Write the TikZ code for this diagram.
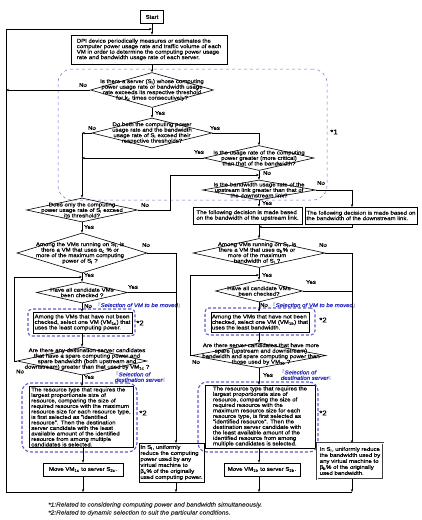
\documentclass[tikz,border=0pt]{standalone}
\usepackage{fontspec}
\setmainfont{Liberation Sans}[FakeStretch=1.12, FakeBold=0.4]
\newfontfamily\cjk{Noto Sans CJK JP}
\usetikzlibrary{arrows.meta,shapes.geometric}
\newcommand\fs{\fontsize{5.4}{5.5}\selectfont}
\newcommand\sub[1]{\textsubscript{#1}}
\definecolor{bluec}{RGB}{40,40,190}
\definecolor{regc}{RGB}{110,110,215}
\begin{document}
\begin{tikzpicture}[x=1pt,y=-1pt,
  every node/.style={font=\fs},
  box/.style={draw, line width=0.6pt, inner sep=1.2pt, align=left},
  dia/.style={draw, diamond, inner sep=0pt, line width=0.6pt},
  dtxt/.style={inner sep=0pt, align=center},
  lab/.style={inner sep=0pt},
  arr/.style={-{Stealth[length=3pt,width=2.4pt]}, line width=0.5pt},
  ln/.style={line width=0.5pt},
  blu/.style={inner sep=0pt, text=bluec, font=\fs\itshape, align=left, anchor=west},
  selframe/.style={draw=bluec!75, line width=1.1pt, dash pattern=on 3pt off 2pt, rounded corners=4pt, inner sep=0pt},
  resframe/.style={selframe, rounded corners=9pt},
  star/.style={inner sep=0pt, font=\fontsize{7}{7}\selectfont}]
\useasboundingbox (0,0) rectangle (421,520);

% dashed region *1
\node[draw=regc, dashed, line width=0.5pt, rounded corners=14pt, minimum width=269pt, minimum height=131pt, inner sep=0pt] (reg) at (192.5,134.5) {};
\node[star] (s1) at (334,132) {*1};

% main column
\node[box, minimum width=23pt, minimum height=13pt, align=center] (start) at (152,17) {Start};
\node[box, line width=0.8pt, minimum width=156pt, minimum height=29pt] (b1) at (149,49.5) {DPI device periodically measures or estimates the\\computer power usage rate and traffic volume of each\\VM in order to determine the computing power usage\\rate and bandwidth usage rate of each server.};

\node[dia, minimum width=123pt, minimum height=35pt] (d1) at (152,90) {};
\node[dtxt] (d1t) at (152,90) {Is there a server (S\sub{i}) whose computing\\power usage rate or bandwidth usage\\rate exceeds its respective threshold\\for k\sub{c} times consecutively?};

\node[dia, minimum width=120pt, minimum height=30pt] (d2) at (152,133) {};
\node[dtxt] (d2t) at (152,133) {Do both the computing power\\usage rate and the bandwidth\\usage rate of S\sub{i} exceed their\\respective thresholds?};

\node[dia, minimum width=110pt, minimum height=25pt] (d3) at (259,158) {};
\node[dtxt] (d3t) at (259,158) {Is the usage rate of the computing\\power greater (more critical)\\than that of the bandwidth?};

\node[dia, minimum width=113pt, minimum height=20pt] (d5) at (259,190) {};
\node[dtxt] (d5t) at (259,190) {Is the bandwidth usage rate of the\\upstream link greater than that of\\the downstream link?};

\node[dia, minimum width=111pt, minimum height=24pt] (d4) at (82,210) {};
\node[dtxt] (d4t) at (82,210) {Does only the computing\\power usage rate of S\sub{i} exceed\\its threshold?};

\node[box, minimum width=109pt, minimum height=17pt] (bup) at (247.5,215.5) {The following decision is made based\\on the bandwidth of the upstream link.};
\node[box, minimum width=112pt, minimum height=17pt] (bdn) at (361,215.5) {The following decision is made based on\\the bandwidth of the downstream link.};

% left column
\node[dia, minimum width=130pt, minimum height=40pt] (d6) at (82,253) {};
\node[dtxt] (d6t) at (80,253) {Among the VMs running on S\sub{i}, is\\there a VM that uses α\sub{c} \% or\\more of the maximum computing\\power of S\sub{i} ?};

\node[dia, minimum width=91pt, minimum height=21pt] (d7) at (82,292.5) {};
\node[dtxt] (d7t) at (82,292.5) {Have all candidate VMs\\been checked ?};

\node[box, minimum width=99pt, minimum height=21pt] (sel1) at (82.5,322.5) {Among the VMs that have not been\\checked, select one VM (VM\sub{1c}) that\\uses the least computing power.};
\node[selframe, minimum width=107pt, minimum height=27pt] (f1) at (81.5,322.5) {};

\node[dia, minimum width=130pt, minimum height=28pt] (d8) at (82,361) {};
\node[dtxt] (d8t) at (87,359) {Are there any destination server candidates\\that have a spare computing power and\\spare bandwidth (both upstream and\\downstream) greater than that used by VM\sub{1c} ?};

\node[box, minimum width=104pt, minimum height=60pt] (res1) at (81,417) {The resource type that requires the\\largest proportionate size of\\resource, comparing the size of\\required resource with the maximum\\resource size for each resource type,\\is first selected as "identified\\resource". Then the destination\\server candidate with the least\\available amount of the identified\\resource from among multiple\\candidates is selected.};
\node[resframe, minimum width=115pt, minimum height=69pt] (f3) at (79.5,417.5) {};

\node[box, minimum width=80pt, minimum height=13pt, align=center] (mv1) at (83,469.5) {Move VM\sub{1c} to server S\sub{2c}.};

\node[box, minimum width=65pt, minimum height=39pt, font=\fontsize{5.4}{6}\selectfont] (rcp) at (171.5,462.5) {In S\sub{i}, uniformly\\reduce the computing\\power used by any\\virtual machine to\\β\sub{c}\% of the originally\\used computing power.};

% right column
\node[dia, minimum width=132pt, minimum height=29pt] (d9) at (259,253) {};
\node[dtxt] (d9t) at (257,253) {Among VMs running on S\sub{i}, is\\there a VM that uses α\sub{b}\% or\\more of the maximum\\bandwidth of S\sub{i} ?};

\node[dia, minimum width=87pt, minimum height=22pt] (d10) at (259,291) {};
\node[dtxt] (d10t) at (259,291) {Have all candidate VMs\\been checked?};

\node[box, minimum width=98pt, minimum height=20pt] (sel2) at (260,322) {Among the VMs that have not been\\checked, select one VM (VM\sub{1b}) that\\uses the least bandwidth.};
\node[selframe, minimum width=110pt, minimum height=27pt] (f2) at (260,321.5) {};

\node[dia, minimum width=134pt, minimum height=25pt] (d11) at (259,355.5) {};
\node[dtxt] (d11t) at (261,354) {Are there server candidates that have more\\spare (upstream and downstream)\\bandwidth and spare computing power than\\those used by VM\sub{1b} ?};

\node[box, minimum width=110pt, minimum height=63pt] (res2) at (260,416.5) {The resource type that requires the\\largest proportionate size of\\resource, comparing the size of\\required resource with the\\maximum resource size for each\\resource type, is first selected as\\"identified resource". Then the\\destination server candidate with\\the least available amount of the\\identified resource from among\\multiple candidates is selected.};
\node[resframe, minimum width=120pt, minimum height=70pt] (f4) at (258,417) {};

\node[box, minimum width=76pt, minimum height=13pt, align=center] (mv2) at (262,469.5) {Move VM\sub{1b} to server S\sub{2b}.};

\node[box, draw=black!75, double, double distance=0.5pt, line width=0.5pt, minimum width=66pt, minimum height=36pt, font=\fontsize{5.4}{6}\selectfont] (rbw) at (350,461) {In S\sub{i}, uniformly reduce\\the bandwidth used by\\any virtual machine to\\β\sub{b}\% of the originally\\used bandwidth.};

% blue labels and *2 marks
\node[blu] (l1) at (95,305) {{\cjk 『}Selection of VM to be moved{\cjk 』}};
\node[blu] (l2) at (270,305) {{\cjk 『}Selection of VM to be moved{\cjk 』}};
\node[blu] (l3) at (113,377) {{\cjk 『}Selection of\\\ destination server{\cjk 』}};
\node[blu] (l4) at (279,375) {{\cjk 『}Selection of\\\ destination server{\cjk 』}};
\node[star] (s2a) at (140,323) {*2};
\node[star] (s2b) at (323,320) {*2};
\node[star] (s2c) at (143,413) {*2};
\node[star] (s2d) at (323,413) {*2};

% coordinates
\coordinate (top) at (6,29);
\coordinate (topj) at (152,29);
\coordinate (busL) at (6,492);
\coordinate (busR) at (352,492);
\coordinate (k1) at (170,175);
\coordinate (j1) at (259,175);
\coordinate (j2) at (259,227);
\coordinate (bdnin) at (352,207);
\coordinate (bdnout) at (352,224);
\coordinate (rcpin) at (176,443);
\coordinate (rcpout) at (176,482);
\coordinate (rbwin) at (352,443);
\coordinate (rbwout) at (352,479);
\coordinate (lp1) at (14,277);
\coordinate (j3) at (82,277);
\coordinate (lp2) at (190,275);
\coordinate (j4) at (259,275);

% connectors
\draw[arr] (start.south) -- (start.south |- b1.north);
\draw[arr] (d1.north |- b1.south) -- (d1.north);
\draw[arr] (d1.south) -- (d2.north);
\draw[arr] (d1.west) -- (d1.west -| top);
\draw[arr] (d2.west) -- (d2.west -| d4.north);
\draw[arr] (d2.west -| d4.north) -- (d4.north);
\draw[arr] (d2.east) -| (d3.north);
\draw[arr] (d3.west) -- (d3.west -| d4.north);
\draw[arr] (d3.south) -- (d5.north);
\draw[arr] (d4.east) -| (k1) -- (j1);
\draw[arr] (d4.south) -- (d6.north);
\draw[arr] (d5.south) -- (d5.south |- bup.north);
\draw[arr] (d5.east) -| (bdnin);
\draw[arr] (bdnout) |- (j2);
\draw[arr] (d9.north |- bup.south) -- (d9.north);

\draw[arr] (d6.east) -| (rcpin);
\draw[ln] (d7.east) -- (d7.east -| rcpin);
\draw[arr] (d6.south) -- (d7.north);
\draw[arr] (d7.south) -- (d7.south |- sel1.north);
\draw[arr] (sel1.south -| d8.north) -- (d8.north);
\draw[arr] (d8.west) -| (lp1) -- (j3);
\draw[arr] (d8.south) -- (d8.south |- res1.north);
\draw[arr] (mv1.north |- res1.south) -- (mv1.north);

\draw[arr] (d9.east) -| (rbwin);
\draw[ln] (d10.east) -- (d10.east -| rbwin);
\draw[arr] (d9.south) -- (d10.north);
\draw[arr] (d10.south) -- (d10.south |- sel2.north);
\draw[arr] (d11.north |- sel2.south) -- (d11.north);
\draw[arr] (d11.west) -| (lp2) -- (j4);
\draw[arr] (d11.south) -- (d11.south |- res2.north);
\draw[arr] (d11.south |- res2.south) -- (d11.south |- mv2.north);

\draw[arr] (mv1.south) -- (mv1.south |- busL);
\draw[arr] (rcpout) -- (rcpout |- busL);
\draw[arr] (d11.south |- mv2.south) -- (d11.south |- busL);
\draw[arr] (rbwout) -- (busR);
\draw[ln] (busR) -- (busL) -- (top);
\draw[arr] (top) -- (topj);

% Yes / No labels
\node[lab] (n1) at (83,85) {No};
\node[lab] (y1) at (160,113) {Yes};
\node[lab] (n2) at (92,128) {No};
\node[lab] (y2) at (215,128) {Yes};
\node[lab] (y3) at (199,152) {Yes};
\node[lab] (n3) at (267,173) {No};
\node[lab] (n4) at (145,205) {No};
\node[lab] (y4) at (89,227) {Yes};
\node[lab] (n5) at (321,183) {No};
\node[lab] (y5) at (267,203) {Yes};
\node[lab] (n6) at (146,245) {No};
\node[lab] (y6) at (89,275) {Yes};
\node[lab] (y7) at (133,287) {Yes};
\node[lab] (n7) at (88,306) {No};
\node[lab] (n8) at (20,371.5) {No};
\node[lab] (y8) at (89,377) {Yes};
\node[lab] (n9) at (323,245) {No};
\node[lab] (y9) at (267,275) {Yes};
\node[lab] (y10) at (311,282) {Yes};
\node[lab] (n10) at (264,305) {No};
\node[lab] (n11) at (196,362) {No};
\node[lab] (y11) at (268,375) {Yes};

% footnotes
\node[lab, anchor=west, font=\fontsize{5.8}{6}\selectfont\itshape, text=black!80] (fn1) at (48,505) {*1:Related to considering computing power and bandwidth simultaneously.};
\node[lab, anchor=west, font=\fontsize{5.8}{6}\selectfont\itshape, text=black!80] (fn2) at (48,513) {*2:Related to dynamic selection to suit the particular conditions.};
\end{tikzpicture}
\end{document}
